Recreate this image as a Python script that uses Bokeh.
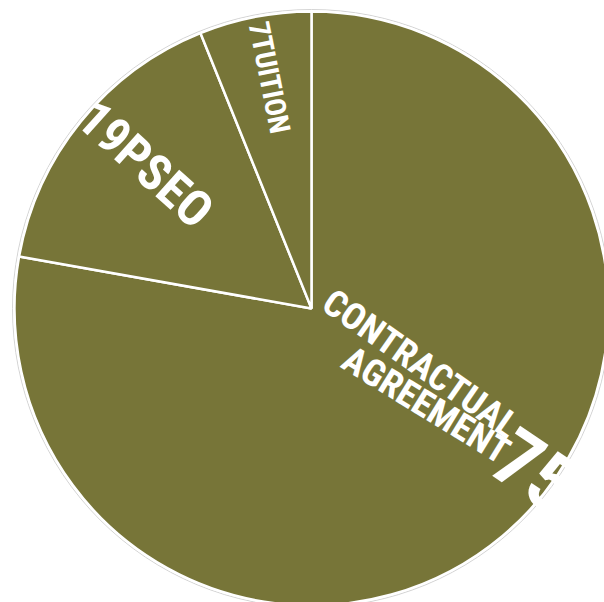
import math
from bokeh.plotting import figure
from bokeh.models import ColumnDataSource, Range1d
from bokeh.embed import file_html
from bokeh.resources import INLINE
from bokeh.core.properties import value

# ---- data ----
categories = ["CONTRACTUAL AGREEMENT", "PSEO", "TUITION"]
label_values = ["75", "19", "7"]
# share of the circle each slice occupies in the picture (clockwise from 12 o'clock)
shares = [77.8, 16.1, 6.1]

OLIVE = "#777538"
FONT = value("Roboto Condensed")
R = 297

total = sum(shares)
starts, ends = [], []
a = math.pi / 2
for s in shares:
    span = 2 * math.pi * s / total
    ends.append(a)
    starts.append(a - span)
    a -= span

src = ColumnDataSource(dict(cat=categories, start=starts, end=ends))

p = figure(width=604, height=602, x_range=Range1d(-311, 293), y_range=Range1d(-294, 308),
           output_backend="svg", toolbar_location=None, min_border=0)
p.axis.visible = False
p.grid.visible = False
p.outline_line_color = None
p.background_fill_color = "white"
p.border_fill_color = "white"

p.circle(x=[0], y=[0], radius=R + 2, fill_color=None, line_color="#d4d4d4", line_width=1)
p.wedge(x=0, y=0, radius=R, start_angle="start", end_angle="end", source=src,
        fill_color=OLIVE, line_color="white", line_width=2.5)

# labels
p.text(x=[-42], y=[231], text=[label_values[2] + categories[2]], angle=[math.radians(-78.7)],
       text_align="center", text_baseline="middle", text_color="white",
       text_font=FONT, text_font_style="bold", text_font_size="29px")
p.text(x=[-166], y=[144], text=[label_values[1] + categories[1]], angle=[math.radians(-42)],
       text_align="center", text_baseline="middle", text_color="white",
       text_font=FONT, text_font_style="bold", text_font_size="50px")
lines = categories[0].split(" ")
p.text(x=[203, 195], y=[-121, -146], text=lines, angle=[math.radians(-35), math.radians(-31.5)],
       text_align="right", text_baseline="middle", text_color="white",
       text_font=FONT, text_font_style="bold", text_font_size="37px")
p.text(x=[224], y=[-162], text=[label_values[0]], angle=[math.radians(-34)],
       text_align="center", text_baseline="middle", text_color="white",
       text_font=FONT, text_font_style="bold", text_font_size="80px")

open("out.html", "w").write(file_html(p, INLINE))
